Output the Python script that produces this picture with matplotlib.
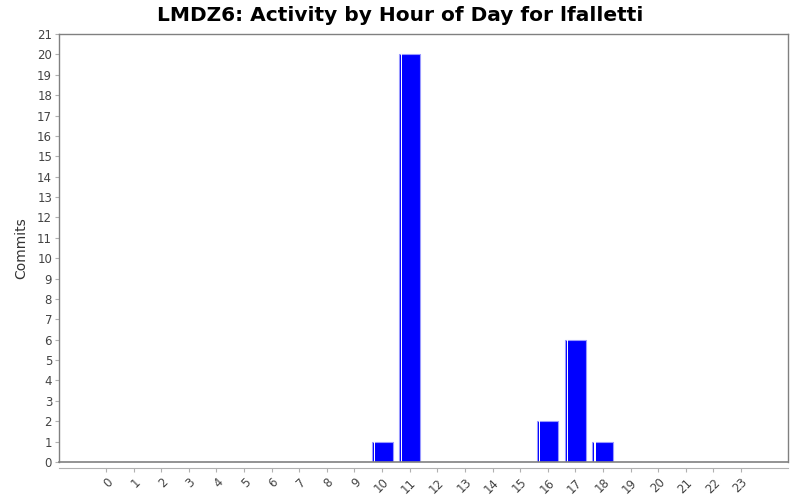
import matplotlib
matplotlib.use("Agg")
import matplotlib.pyplot as plt

hours = list(range(24))
hour_labels = [str(h) for h in hours]
commits = [0, 0, 0, 0, 0, 0, 0, 0, 0, 0, 1, 20, 0, 0, 0, 0, 2, 6, 1, 0, 0, 0, 0, 0]

fig = plt.figure(figsize=(8, 5), dpi=100)
ax = fig.add_axes([59 / 800, 38 / 500, 729 / 800, 428 / 500])

bar_w = 0.76
# main bars
bars = ax.bar(hours, commits, width=bar_w, color="#0000ff",
              edgecolor="#9a9aff", linewidth=0.8, zorder=2)
# white highlight stripe near the left edge of each bar
for b, v in zip(bars, commits):
    if v > 0:
        x0 = b.get_x()
        ax.bar(x0 + 0.07, v, width=0.045, align="edge", color="white",
               linewidth=0, zorder=3)

ax.set_xlim(-1.7, 24.7)
ax.set_ylim(0, 21)
ax.set_yticks(range(22))
ax.set_xticks(hours)

for s in ["top", "right", "left"]:
    ax.spines[s].set_color("#808080")
    ax.spines[s].set_linewidth(1)
ax.spines["bottom"].set_position(("outward", 4))
ax.spines["bottom"].set_color("#b0b0b0")
ax.axhline(0, color="#808080", linewidth=1.2, zorder=4, clip_on=False)

ax.tick_params(axis="both", colors="#b0b0b0", labelcolor="#444444",
               labelsize=8.5, length=3, width=0.8)
ax.tick_params(axis="y", pad=2)
ax.tick_params(axis="x", pad=3, labelrotation=45)
ax.set_xticklabels(hour_labels, rotation=45, ha="right", rotation_mode="anchor")

ax.set_ylabel("Commits", fontsize=10, color="#333333", labelpad=6)
fig.suptitle("LMDZ6: Activity by Hour of Day for lfalletti",
             fontsize=14.5, fontweight="bold", y=0.988)

fig.savefig("out.png", dpi=100)
